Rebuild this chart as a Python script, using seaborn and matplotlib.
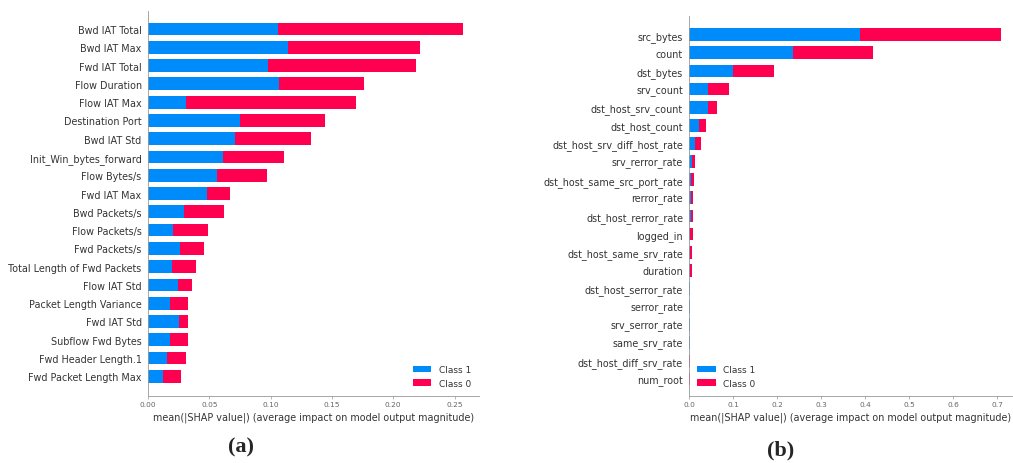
import matplotlib
matplotlib.use("Agg")
import matplotlib.pyplot as plt
import seaborn as sns
import pandas as pd

# Panel (a): CIC-IDS2017 features
features_a = [
    "Bwd IAT Total", "Bwd IAT Max", "Fwd IAT Total", "Flow Duration",
    "Flow IAT Max", "Destination Port", "Bwd IAT Std", "Init_Win_bytes_forward",
    "Flow Bytes/s", "Fwd IAT Max", "Bwd Packets/s", "Flow Packets/s",
    "Fwd Packets/s", "Total Length of Fwd Packets", "Flow IAT Std",
    "Packet Length Variance", "Fwd IAT Std", "Subflow Fwd Bytes",
    "Fwd Header Length.1", "Fwd Packet Length Max",
]
class1_a = [0.106, 0.114, 0.0976, 0.107, 0.0307, 0.0753, 0.071, 0.0609,
            0.0563, 0.0481, 0.0291, 0.0201, 0.0261, 0.0193, 0.0242,
            0.0177, 0.0256, 0.0177, 0.0155, 0.0122]
class0_a = [0.151, 0.108, 0.121, 0.069, 0.139, 0.069, 0.062, 0.050,
            0.041, 0.0185, 0.0326, 0.0286, 0.0193, 0.0202, 0.0117,
            0.0153, 0.0074, 0.0147, 0.0152, 0.0145]

# Panel (b): NSL-KDD features
features_b = [
    "src_bytes", "count", "dst_bytes", "srv_count", "dst_host_srv_count",
    "dst_host_count", "dst_host_srv_diff_host_rate", "srv_rerror_rate",
    "dst_host_same_src_port_rate", "rerror_rate", "dst_host_rerror_rate",
    "logged_in", "dst_host_same_srv_rate", "duration", "dst_host_serror_rate",
    "serror_rate", "srv_serror_rate", "same_srv_rate", "dst_host_diff_srv_rate",
    "num_root",
]
class1_b = [0.387, 0.2357, 0.100, 0.0425, 0.0425, 0.022, 0.0136, 0.006,
            0.0045, 0.0038, 0.0045, 0.0012, 0.002, 0.002, 0.0012, 0.0012,
            0.0012, 0.0012, 0.0002, 0.0002]
class0_b = [0.321, 0.182, 0.0925, 0.0475, 0.021, 0.0166, 0.013, 0.0062,
            0.0062, 0.0052, 0.0045, 0.0065, 0.0035, 0.0035, 0.0002, 0.0002,
            0.0002, 0.0001, 0.0012, 0.0012]

BLUE = "#008bfb"
RED = "#ff0051"
AXIS = "#333333"

sns.set_theme(style="white")
plt.rcParams["font.family"] = ["DejaVu Sans"]

fig = plt.figure(figsize=(10.13, 4.64), dpi=100)


def shap_bars(ax, feats, c1, c0, xmax, ylim, xticks, legend_loc):
    df = pd.DataFrame({"feature": feats, "c1": c1, "c0": c0})
    df["total"] = df["c1"] + df["c0"]
    sns.barplot(data=df, x="total", y="feature", order=feats, color=RED,
                width=0.7, linewidth=0, saturation=1, ax=ax, label="Class 0")
    sns.barplot(data=df, x="c1", y="feature", order=feats, color=BLUE,
                width=0.7, linewidth=0, saturation=1, ax=ax, label="Class 1")
    ax.set_xlim(0, xmax)
    ax.set_ylim(*ylim)
    ax.set_xticks(xticks)
    ax.set_ylabel("")
    ax.set_xlabel("mean(|SHAP value|) (average impact on model output magnitude)",
                  fontsize=6.95, color=AXIS, labelpad=3)
    for side in ("top", "right"):
        ax.spines[side].set_visible(False)
    for side in ("left", "bottom"):
        ax.spines[side].set_color("#999999")
        ax.spines[side].set_linewidth(0.6)
    ax.tick_params(axis="y", length=0, labelsize=6.9, labelcolor=AXIS, pad=4.5)
    ax.tick_params(axis="x", length=2, width=0.5, color="#999999",
                   labelsize=5.3, labelcolor="#666666", pad=2, bottom=True)
    handles, labels = ax.get_legend_handles_labels()
    order = [labels.index("Class 1"), labels.index("Class 0")]
    ax.legend([handles[i] for i in order], [labels[i] for i in order],
              loc=legend_loc, frameon=False, fontsize=6.5,
              labelcolor=AXIS, handlelength=2.0)


ax_a = fig.add_axes([0.1461, 0.145, 0.3268, 0.8298])
shap_bars(ax_a, features_a, class1_a, class0_a, 0.27, (20.06, -1.0),
          [0.0, 0.05, 0.10, 0.15, 0.20, 0.25], "lower right")
ax_a.set_xticklabels(["0.00", "0.05", "0.10", "0.15", "0.20", "0.25"])

ax_b = fig.add_axes([0.6805, 0.145, 0.3185, 0.8177])
shap_bars(ax_b, features_b, class1_b, class0_b, 0.733, (19.92, -1.015),
          [0.0, 0.1, 0.2, 0.3, 0.4, 0.5, 0.6, 0.7], "lower left")

fig.text(0.238, 0.035, "(a)", ha="center", va="center",
         fontsize=16, fontweight="bold", family="Liberation Serif")
fig.text(0.771, 0.03, "(b)", ha="center", va="center",
         fontsize=16, fontweight="bold", family="Liberation Serif")

fig.savefig("out.png", dpi=100)
